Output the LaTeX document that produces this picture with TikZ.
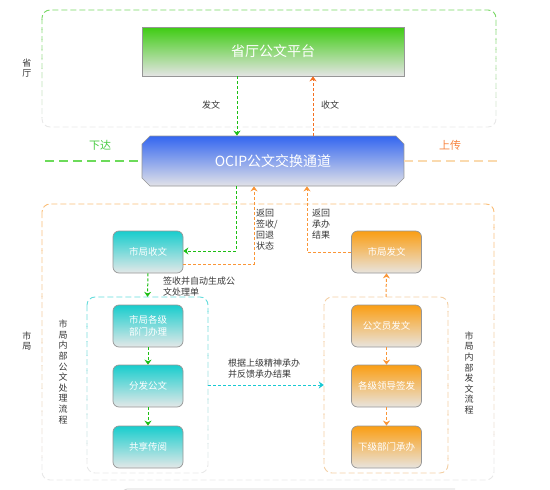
\documentclass[tikz,border=0pt]{standalone}
\usepackage{fontspec}
\newfontfamily\cjk{Noto Sans CJK SC}
\usetikzlibrary{arrows.meta,shapes.misc}
\definecolor{gtop}{RGB}{62,204,18}
\definecolor{gbot}{RGB}{228,228,228}
\definecolor{btop}{RGB}{51,102,240}
\definecolor{bbot}{RGB}{226,226,232}
\definecolor{ttop}{RGB}{24,205,205}
\definecolor{tbot}{RGB}{228,232,232}
\definecolor{otop}{RGB}{250,158,20}
\definecolor{obot}{RGB}{232,228,222}
\definecolor{bord}{RGB}{150,150,150}
\definecolor{garr}{RGB}{28,190,20}
\definecolor{oarr}{RGB}{245,110,30}
\definecolor{oarr2}{RGB}{250,150,55}
\definecolor{carr}{RGB}{25,200,210}
\definecolor{gline}{RGB}{120,215,100}
\definecolor{oline}{RGB}{250,190,120}
\definecolor{oline2}{RGB}{250,218,175}
\definecolor{cline}{RGB}{100,220,220}
\definecolor{fadegray}{RGB}{232,232,232}
\definecolor{txt}{RGB}{55,55,55}
\newcommand\fadebox[6]{%
  \foreach \i in {0,...,11}{%
    \pgfmathsetmacro\pct{100-\i*100/11}%
    \pgfmathsetmacro\ya{#2+(#4-#2)*\i/12}%
    \pgfmathsetmacro\yb{#2+(#4-#2)*(\i+1)/12}%
    \begin{scope}
      \ifnum\i=0 \clip (0,0) rectangle (550,\yb);
      \else\ifnum\i=11 \clip (0,\ya) rectangle (550,490);
      \else \clip (0,\ya) rectangle (550,\yb);\fi\fi
      \draw[line width=0.9pt,dash pattern=on 6pt off 3pt,color=#5!\pct!#6,rounded corners=8pt] (#1,#2) rectangle (#3,#4);
    \end{scope}}}
\begin{document}
\begin{tikzpicture}[x=1pt,y=-1pt,
  every node/.style={font=\cjk},
  box/.style={draw=bord,line width=0.7pt,rounded corners=6pt,minimum width=70pt,minimum height=42pt,text=white,font=\cjk\fontsize{9.5}{12}\selectfont,align=center,inner sep=0pt},
  gbox/.style={box,top color=ttop,bottom color=tbot},
  obox/.style={box,top color=otop,bottom color=obot},
  lbl/.style={text=txt,font=\cjk\fontsize{9}{11}\selectfont,align=left,inner sep=0pt},
  vlbl/.style={text=txt,font=\cjk\fontsize{9}{10.6}\selectfont,align=center,inner sep=0pt},
  tip/.style={-{Stealth[length=5pt,width=7pt]}},
  garrow/.style={tip,draw=garr,line width=1pt,dash pattern=on 3pt off 2pt},
  oarrow/.style={tip,draw=oarr,line width=1pt,dash pattern=on 3pt off 2pt},
  oarrowb/.style={tip,draw=oarr2,line width=1pt,dash pattern=on 3pt off 2pt},
  carrow/.style={tip,draw=carr,line width=1pt,dash pattern=on 3pt off 2pt},
]
\useasboundingbox (0,0) rectangle (550,490);
% outer boxes
\fadebox{42}{10}{496}{127}{gline}{fadegray}
\fadebox{42}{204}{494}{480}{oline}{fadegray}
\fadebox{87}{297}{208}{473}{cline}{fadegray}
\fadebox{324}{297}{448}{473}{oline}{oline!60!fadegray}
% bottom partial box
\draw[fadegray!80!gray,line width=0.8pt,rounded corners=4pt] (123,495) -- (123,489) -- (455,489);
% main nodes
\node[draw=bord,line width=0.7pt,top color=gtop,bottom color=gbot,minimum width=262pt,minimum height=49pt,text=white,font=\cjk\fontsize{14}{16}\selectfont] (plat) at (273,51.5) {省厅公文平台};
\node[chamfered rectangle,chamfered rectangle xsep=4pt,chamfered rectangle ysep=4pt,draw=bord,line width=0.7pt,top color=btop,bottom color=bbot,minimum width=262pt,minimum height=50pt,text=white,font=\cjk\fontsize{14}{16}\selectfont,inner sep=0pt] (chan) at (273,161) {OCIP公文交换通道};
\node[gbox] (sjsw) at (148,252) {市局收文};
\node[obox] (sjfw) at (386.5,252) {市局发文};
\node[gbox] (bm) at (148,326) {市局各级\\部门办理};
\node[gbox] (ff) at (148,386) {分发公文};
\node[gbox] (gx) at (148,447) {共享传阅};
\node[obox] (gwy) at (386.5,326) {公文员发文};
\node[obox] (gj) at (386.5,386) {各级领导签发};
\node[obox] (xj) at (386.5,447) {下级部门承办};
\node[minimum width=121pt,minimum height=176pt,inner sep=0pt] (inL) at (147.5,385) {};
\node[minimum width=124pt,minimum height=176pt,inner sep=0pt] (inR) at (386,385) {};
% side dashed lines
\coordinate (lend) at (45,161);
\coordinate (rend) at (500,161);
\draw[gline!90!green,line width=1.2pt,dash pattern=on 9pt off 5pt] (lend) -- (chan.west);
\draw[oline2,line width=1.2pt,dash pattern=on 9pt off 5pt] (chan.east) -- (rend);
% coordinates for connector columns
\coordinate (xg) at (237,0);
\coordinate (xo) at (313,0);
\coordinate (xg2) at (236,0);
\coordinate (xo2) at (254,0);
\coordinate (xo3) at (307,0);
% connectors
\draw[garrow] (plat.south -| xg) -- (chan.north -| xg);
\draw[oarrow] (chan.north -| xo) -- (plat.south -| xo);
\draw[garrow] (chan.south -| xg2) |- ([yshift=1pt]sjsw.east);
\draw[oarrowb] ([yshift=-12pt]sjsw.east) -| (chan.south -| xo2);
\draw[oarrowb] (sjfw.west) -| (chan.south -| xo3);
\draw[garrow] (sjsw.south) -- (inL.north);
\draw[oarrowb] (inR.north) -- (sjfw.south);
\draw[garrow] (bm) -- (ff);
\draw[garrow] (ff) -- (gx);
\draw[oarrowb] (gwy) -- (gj);
\draw[oarrowb] (gj) -- (xj);
\draw[carrow] (inL.east) -- (inR.west);
% labels
\node[lbl] (l1) at (211,105) {发文};
\node[lbl] (l2) at (330,105) {收文};
\node[text=garr!80!white,font=\cjk\fontsize{11}{13}\selectfont,inner sep=0pt] (l3) at (100,145) {下达};
\node[text=oarr!85!white,font=\cjk\fontsize{11}{13}\selectfont,inner sep=0pt] (l4) at (450,145) {上传};
\node[vlbl] (l5) at (27,68) {省\\厅};
\node[vlbl] (l6) at (27,341) {市\\局};
\node[vlbl] (l7) at (63,372) {市\\局\\内\\部\\公\\文\\处\\理\\流\\程};
\node[vlbl] (l8) at (469,373) {市\\局\\内\\部\\发\\文\\流\\程};
\node[lbl,anchor=west] (l9) at (256,230) {返回\\签收/\\回退\\状态};
\node[lbl,anchor=west] (l10) at (312,224) {返回\\承办\\结果};
\node[lbl,anchor=west] (l11) at (163,287) {签收并自动生成公\\文处理单};
\node[lbl,anchor=west] (l12) at (228,369) {根据上级精神承办\\并反馈承办结果};
\end{tikzpicture}
\end{document}
